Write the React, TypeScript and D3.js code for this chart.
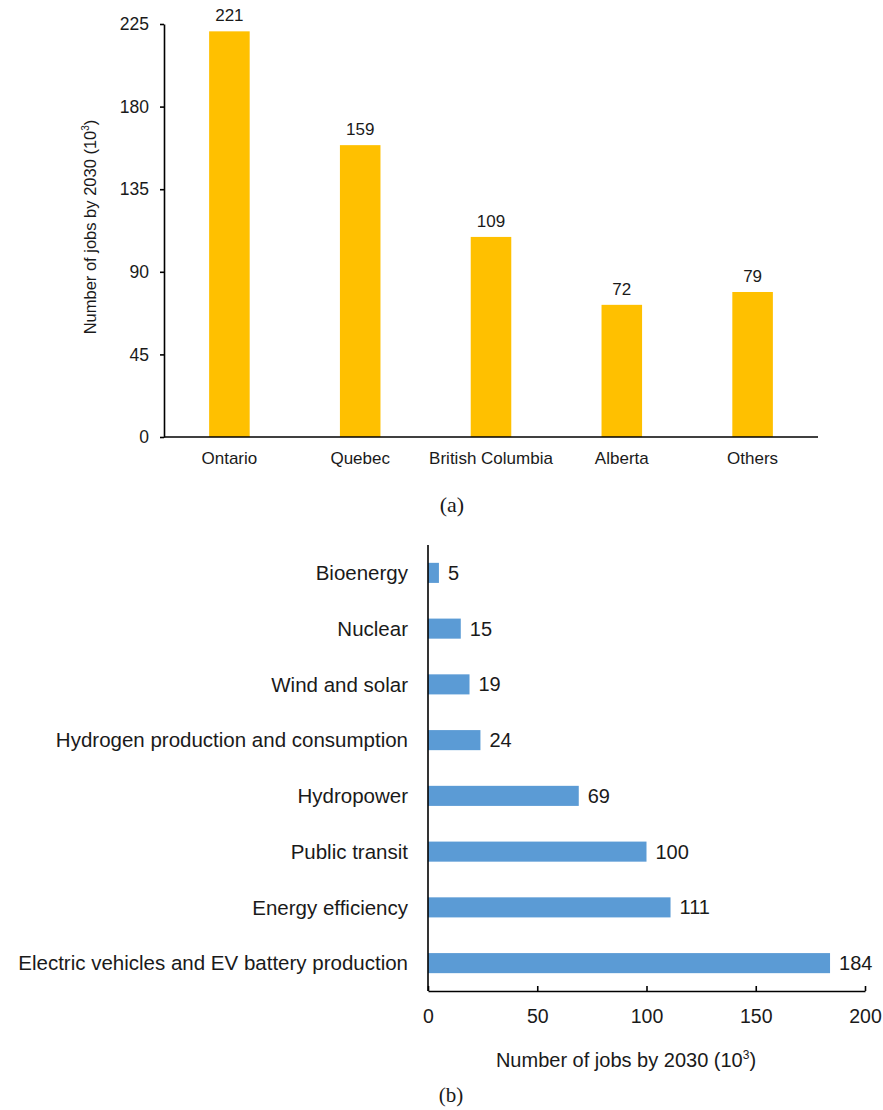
import React, { useEffect, useRef } from "react";
import * as d3 from "d3";

const provinces = ["Ontario", "Quebec", "British Columbia", "Alberta", "Others"];
const provinceJobs = [221, 159, 109, 72, 79];
const provinceTicks = [0, 45, 90, 135, 180, 225];

const sectors = [
  "Bioenergy",
  "Nuclear",
  "Wind and solar",
  "Hydrogen production and consumption",
  "Hydropower",
  "Public transit",
  "Energy efficiency",
  "Electric vehicles and EV battery production",
];
const sectorJobs = [5, 15, 19, 24, 69, 100, 111, 184];
const sectorTicks = [0, 50, 100, 150, 200];

const FONT = "'Liberation Sans', Arial, sans-serif";
const SERIF = "'Liberation Serif', 'Times New Roman', serif";
const TEXT = "#1a1a1a";

export default function App() {
  const ref = useRef<SVGSVGElement>(null);

  useEffect(() => {
    const svg = d3.select(ref.current);
    svg.selectAll("*").remove();

    // ---------- Chart (a) ----------
    const a = { left: 164, right: 818, top: 24, bottom: 437 };
    const xA = d3.scaleBand<string>().domain(provinces).range([a.left, a.right]).paddingInner(0.69).paddingOuter(0.345);
    const yA = d3.scaleLinear().domain([0, 225]).range([a.bottom, a.top]);
    const gA = svg.append("g");

    gA.selectAll("rect.bar")
      .data(provinces)
      .join("rect")
      .attr("x", (d) => xA(d)!)
      .attr("y", (_, i) => yA(provinceJobs[i]))
      .attr("width", xA.bandwidth())
      .attr("height", (_, i) => yA(0) - yA(provinceJobs[i]))
      .attr("fill", "#FFC000");

    gA.selectAll("text.val")
      .data(provinces)
      .join("text")
      .attr("x", (d) => xA(d)! + xA.bandwidth() / 2)
      .attr("y", (_, i) => yA(provinceJobs[i]) - 10)
      .attr("text-anchor", "middle")
      .attr("font-size", 17)
      .attr("font-family", FONT)
      .attr("fill", TEXT)
      .text((_, i) => String(provinceJobs[i]));

    const yAxisA = gA.append("g").attr("transform", `translate(${a.left},0)`)
      .call(d3.axisLeft(yA).tickValues(provinceTicks).tickSize(4).tickSizeOuter(0).tickPadding(11));
    yAxisA.selectAll("path, line").attr("stroke", "#000").attr("stroke-width", 1.6);
    yAxisA.selectAll("text").attr("font-size", 17.5).attr("font-family", FONT).attr("fill", TEXT);

    gA.append("line")
      .attr("x1", a.left).attr("x2", a.right)
      .attr("y1", a.bottom).attr("y2", a.bottom)
      .attr("stroke", "#000").attr("stroke-width", 1.6);

    gA.selectAll("text.cat")
      .data(provinces)
      .join("text")
      .attr("x", (d) => xA(d)! + xA.bandwidth() / 2)
      .attr("y", 464)
      .attr("text-anchor", "middle")
      .attr("font-size", 17)
      .attr("font-family", FONT)
      .attr("fill", TEXT)
      .text((d) => d);

    const titleA = gA.append("text")
      .attr("transform", `translate(96,227) rotate(-90)`)
      .attr("text-anchor", "middle")
      .attr("font-size", 16.5)
      .attr("font-family", FONT)
      .attr("fill", TEXT);
    titleA.append("tspan").text("Number of jobs by 2030 (10");
    titleA.append("tspan").attr("font-size", 10).attr("dy", -7).text("3");
    titleA.append("tspan").attr("dy", 7).text(")");

    svg.append("text")
      .attr("x", 452).attr("y", 512)
      .attr("text-anchor", "middle")
      .attr("font-size", 22)
      .attr("font-family", SERIF)
      .attr("fill", TEXT)
      .text("(a)");

    // ---------- Chart (b) ----------
    const b = { left: 428, right: 865, top: 545, bottom: 991 };
    const xB = d3.scaleLinear().domain([0, 200]).range([b.left, b.right]);
    const yB = d3.scaleBand<string>().domain(sectors).range([b.top, b.bottom]).paddingInner(0.64).paddingOuter(0.32);
    const gB = svg.append("g");

    gB.selectAll("rect.bar")
      .data(sectors)
      .join("rect")
      .attr("x", xB(0))
      .attr("y", (d) => yB(d)!)
      .attr("width", (_, i) => xB(sectorJobs[i]) - xB(0))
      .attr("height", yB.bandwidth())
      .attr("fill", "#5B9BD5");

    gB.selectAll("text.val")
      .data(sectors)
      .join("text")
      .attr("x", (_, i) => xB(sectorJobs[i]) + 9)
      .attr("y", (d) => yB(d)! + yB.bandwidth() / 2)
      .attr("dy", "0.35em")
      .attr("font-size", 20)
      .attr("font-family", FONT)
      .attr("fill", TEXT)
      .text((_, i) => String(sectorJobs[i]));

    gB.selectAll("text.cat")
      .data(sectors)
      .join("text")
      .attr("x", b.left - 20)
      .attr("y", (d) => yB(d)! + yB.bandwidth() / 2)
      .attr("dy", "0.35em")
      .attr("text-anchor", "end")
      .attr("font-size", 20.5)
      .attr("font-family", FONT)
      .attr("fill", TEXT)
      .text((d) => d);

    gB.append("line")
      .attr("x1", b.left).attr("x2", b.left)
      .attr("y1", b.top).attr("y2", b.bottom)
      .attr("stroke", "#000").attr("stroke-width", 1.6);

    const xAxisB = gB.append("g").attr("transform", `translate(0,${b.bottom})`)
      .call(d3.axisBottom(xB).tickValues(sectorTicks).tickSize(-5).tickSizeOuter(0).tickPadding(18));
    xAxisB.selectAll("path, line").attr("stroke", "#000").attr("stroke-width", 1.6);
    xAxisB.selectAll("text").attr("font-size", 19.5).attr("font-family", FONT).attr("fill", TEXT);

    const titleB = gB.append("text")
      .attr("x", 626).attr("y", 1067)
      .attr("text-anchor", "middle")
      .attr("font-size", 20)
      .attr("font-family", FONT)
      .attr("fill", TEXT);
    titleB.append("tspan").text("Number of jobs by 2030 (10");
    titleB.append("tspan").attr("font-size", 12).attr("dy", -8).text("3");
    titleB.append("tspan").attr("dy", 8).text(")");

    svg.append("text")
      .attr("x", 451).attr("y", 1102)
      .attr("text-anchor", "middle")
      .attr("font-size", 21)
      .attr("font-family", SERIF)
      .attr("fill", TEXT)
      .text("(b)");
  }, []);

  return (
    <svg
      ref={ref}
      width={883}
      height={1110}
      style={{ position: "absolute", left: 0, top: 0, background: "#fff" }}
    />
  );
}
